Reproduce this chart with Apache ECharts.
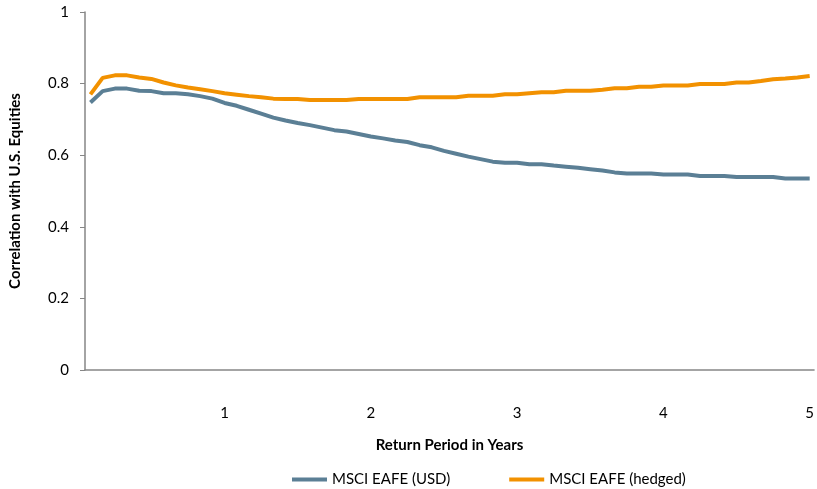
<!DOCTYPE html>
<html>
<head>
<meta charset="utf-8">
<script src="https://cdn.jsdelivr.net/npm/echarts@6/dist/echarts.min.js"></script>
<style>
html,body{margin:0;padding:0;background:#fff;}
#chart{width:817px;height:489px;}
</style>
</head>
<body>
<div id="chart"></div>
<script>
// Return period in months (x = months / 12 years)
const months = [1,2,3,4,5,6,7,8,9,10,11,12,13,14,15,16,17,18,19,20,
  21,22,23,24,25,26,27,28,29,30,31,32,33,34,35,36,37,38,39,40,
  41,42,43,44,45,46,47,48,49,50,51,52,53,54,55,56,57,58,59,60];
const xTickLabels = [1,2,3,4,5];
const seriesNames = ['MSCI EAFE (USD)', 'MSCI EAFE (hedged)'];
const usd = [0.747,0.779,0.786,0.786,0.780,0.779,0.773,0.773,0.770,0.765,
  0.758,0.746,0.738,0.727,0.716,0.705,0.697,0.690,0.684,0.677,
  0.670,0.666,0.659,0.652,0.647,0.641,0.637,0.628,0.622,0.612,
  0.604,0.596,0.589,0.582,0.579,0.579,0.575,0.575,0.571,0.568,
  0.565,0.561,0.557,0.552,0.549,0.549,0.549,0.546,0.546,0.546,
  0.542,0.542,0.542,0.539,0.539,0.539,0.539,0.535,0.535,0.535];
const hedged = [0.770,0.816,0.823,0.823,0.817,0.813,0.803,0.795,0.789,0.784,
  0.779,0.773,0.769,0.765,0.762,0.758,0.757,0.757,0.754,0.754,
  0.754,0.754,0.757,0.757,0.757,0.757,0.757,0.762,0.762,0.762,
  0.762,0.766,0.766,0.766,0.770,0.770,0.773,0.776,0.776,0.780,
  0.780,0.780,0.783,0.787,0.787,0.791,0.791,0.795,0.795,0.795,
  0.799,0.799,0.799,0.803,0.803,0.807,0.812,0.814,0.817,0.821];

const FONT = 'Lato';
const FS = 15;
const toPairs = arr => arr.map((v, i) => [months[i] / 12, v]);
const chart = echarts.init(document.getElementById('chart'), null, {renderer: 'canvas'});
chart.setOption({
  animation: false,
  textStyle: {fontFamily: FONT},
  color: ['#5b7f95', '#f29100'],
  grid: {left: 80, right: 0, top: 12, bottom: 119, containLabel: false},
  legend: {
    data: seriesNames,
    left: 287, top: 467,
    icon: 'rect', itemWidth: 35, itemHeight: 4, itemGap: 59,
    textStyle: {fontFamily: FONT, fontSize: FS, color: '#000'}
  },
  xAxis: {
    type: 'value', min: 0.046, max: 5.03,
    name: 'Return Period in Years', nameLocation: 'middle', nameGap: 68,
    nameTextStyle: {fontFamily: FONT, fontSize: FS, fontWeight: 'bold', color: '#000'},
    axisLine: {lineStyle: {color: '#868686', width: 1.5}},
    axisTick: {show: false},
    splitLine: {show: false},
    axisLabel: {customValues: xTickLabels, margin: 36, fontSize: FS, color: '#000', fontFamily: FONT,
      formatter: v => String(v)}
  },
  yAxis: {
    type: 'value', min: 0, max: 1, interval: 0.2,
    name: 'Correlation with U.S. Equities', nameLocation: 'middle', nameGap: 62,
    nameTextStyle: {fontFamily: FONT, fontSize: FS, fontWeight: 'bold', color: '#000'},
    axisLine: {show: true, lineStyle: {color: '#868686', width: 1.5}},
    axisTick: {show: true, length: 5, lineStyle: {color: '#868686'}},
    splitLine: {show: false},
    axisLabel: {margin: 16, fontSize: FS, color: '#000', fontFamily: FONT}
  },
  series: [
    {name: seriesNames[0], type: 'line', data: toPairs(usd), showSymbol: false,
      lineStyle: {width: 4, color: '#5b7f95'}, itemStyle: {color: '#5b7f95'}},
    {name: seriesNames[1], type: 'line', data: toPairs(hedged), showSymbol: false,
      lineStyle: {width: 4, color: '#f29100'}, itemStyle: {color: '#f29100'}}
  ]
});
</script>
</body>
</html>
